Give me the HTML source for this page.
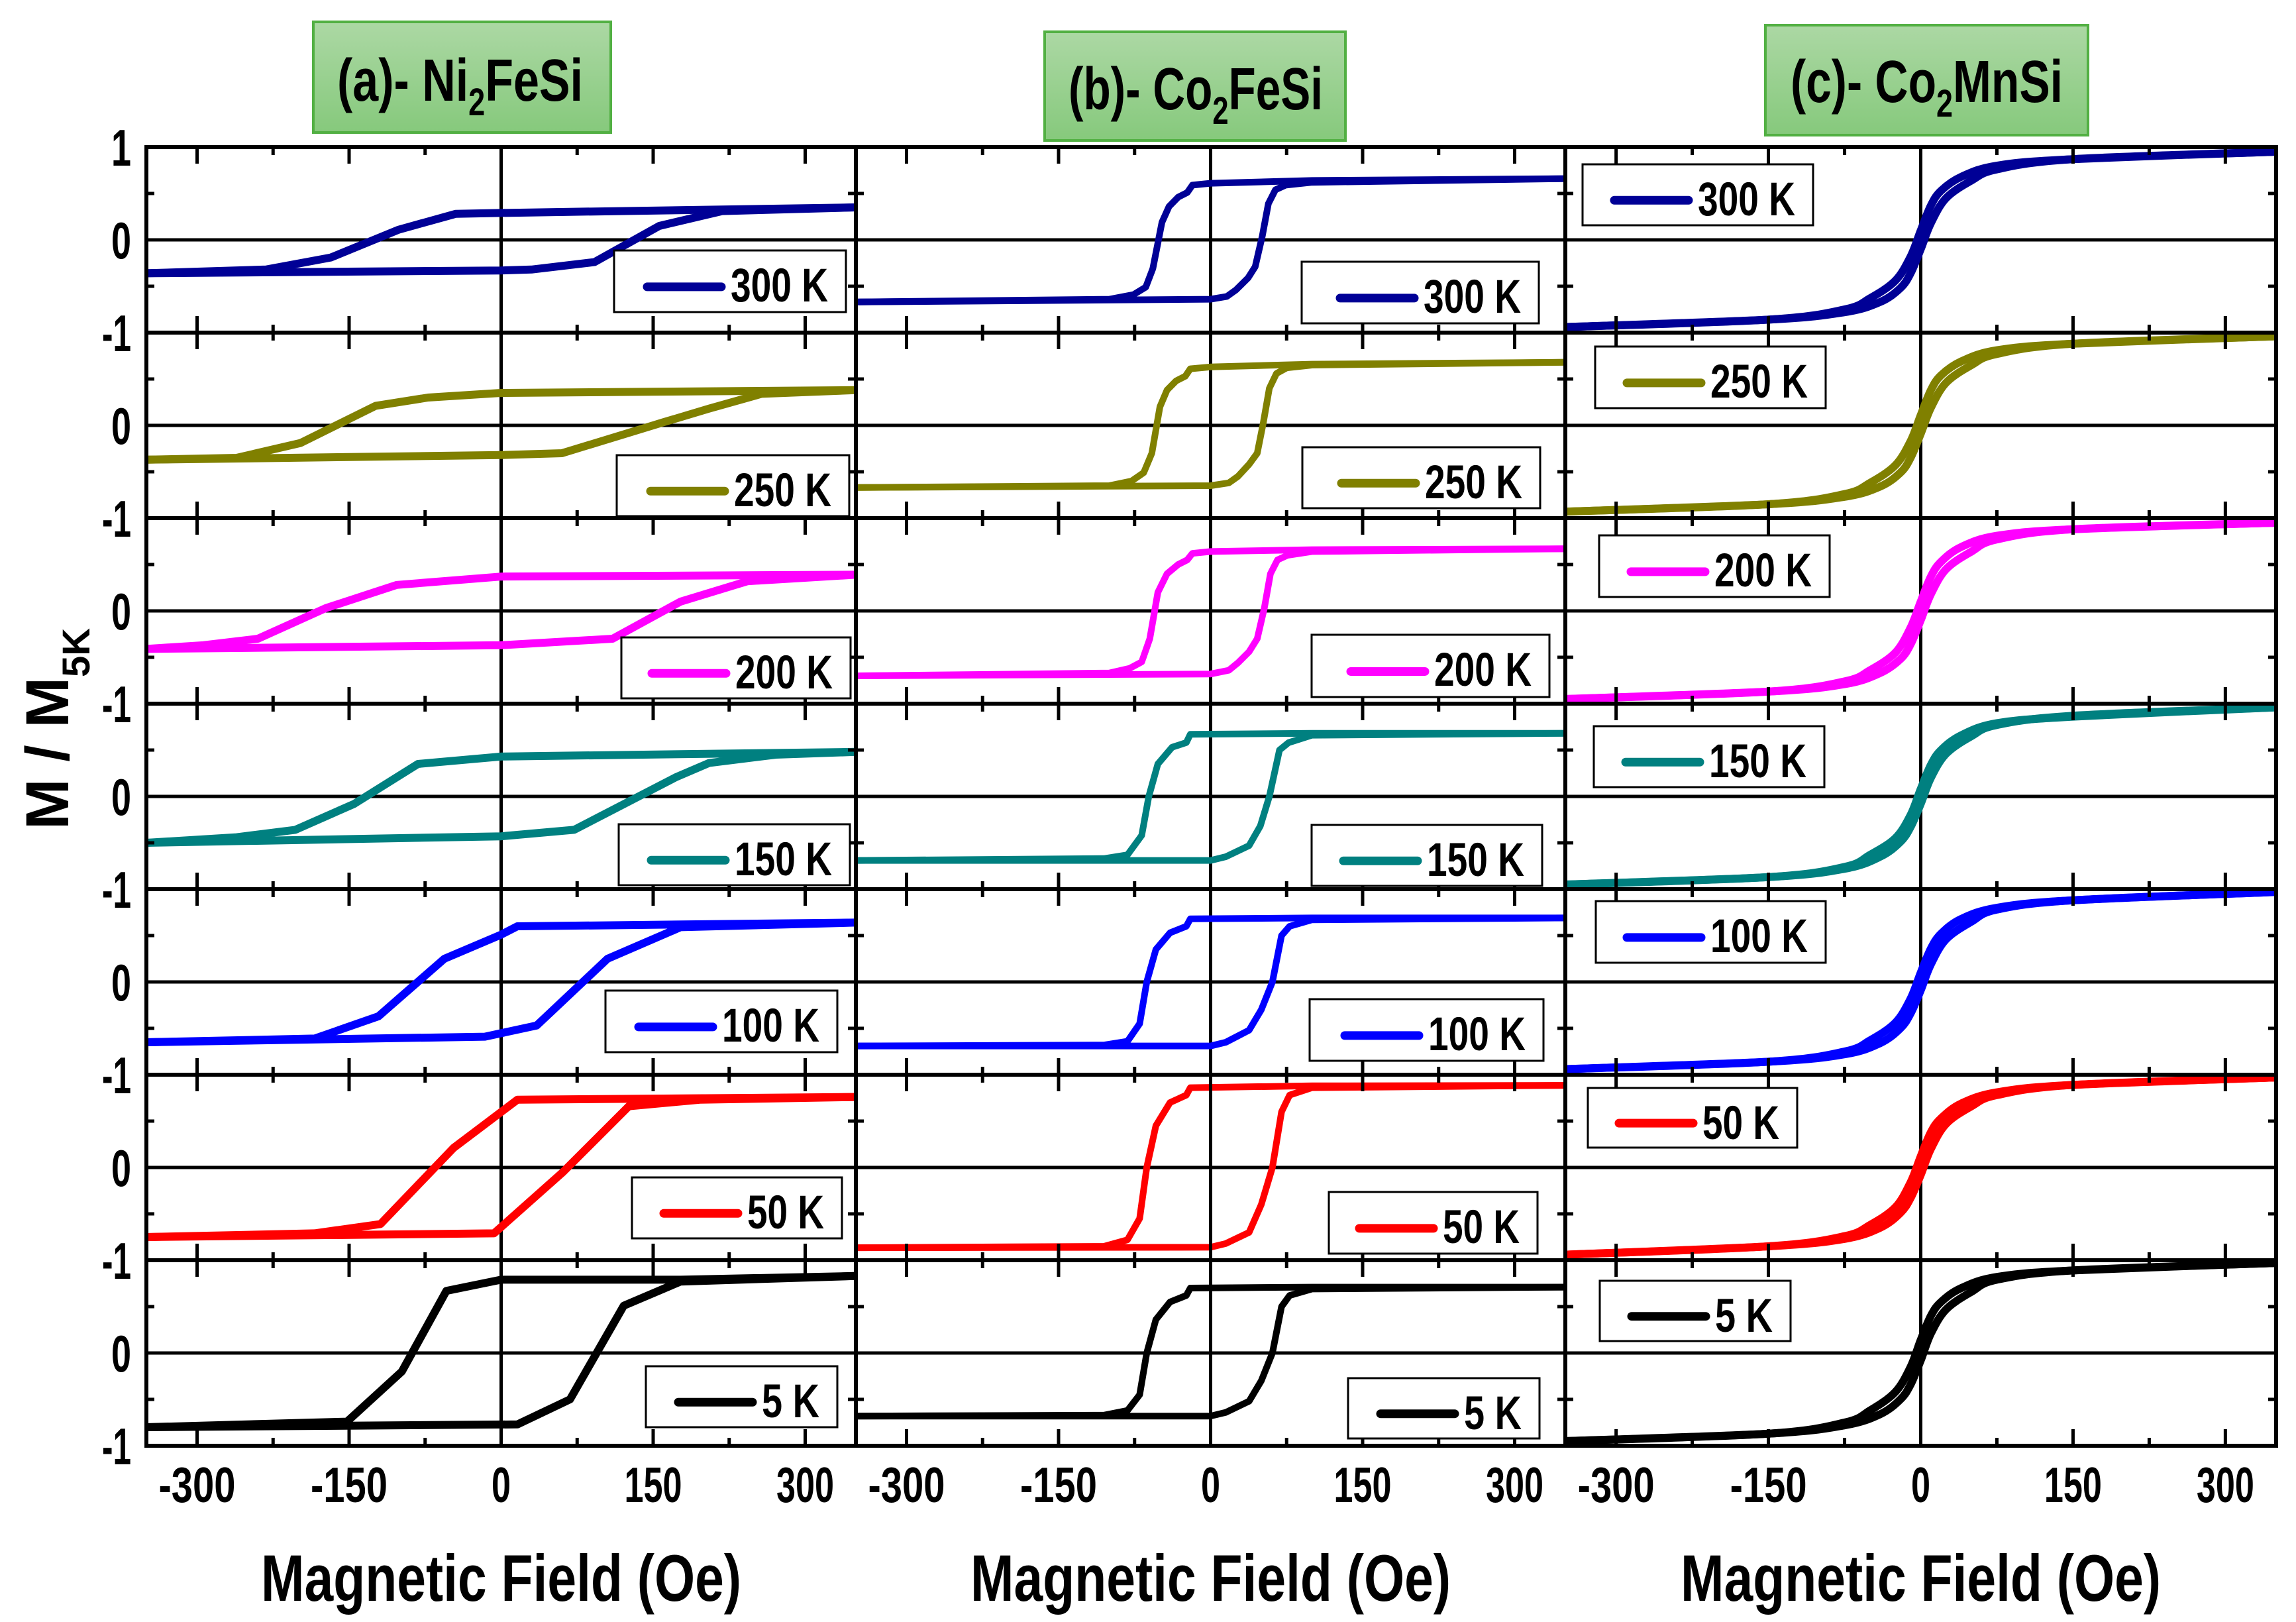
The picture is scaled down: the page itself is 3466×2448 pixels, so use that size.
<!DOCTYPE html>
<html>
<head>
<meta charset="utf-8">
<style>
html,body{margin:0;padding:0;background:#fff;}
svg{display:block;}
text{font-family:"Liberation Sans",sans-serif;font-weight:bold;}
</style>
</head>
<body>
<svg id="chart" xmlns="http://www.w3.org/2000/svg" width="3466" height="2448" viewBox="0 0 3466 2448">
<defs>
<linearGradient id="titleGrad" x1="0" y1="0" x2="0" y2="1">
<stop offset="0" stop-color="#acd8a4"/>
<stop offset="1" stop-color="#86c97c"/>
</linearGradient>
</defs>
<rect x="0" y="0" width="3466" height="2448" fill="#fff"/>
<g>
<rect x="473" y="33" width="449" height="167" fill="url(#titleGrad)" stroke="#52b043" stroke-width="4"/>
<text x="509" y="152" font-size="90" textLength="371" lengthAdjust="spacingAndGlyphs" fill="#000">(a)- Ni<tspan font-size="58" dy="22">2</tspan><tspan dy="-22">FeSi</tspan></text>
</g>
<g>
<rect x="1577" y="48" width="454" height="164" fill="url(#titleGrad)" stroke="#52b043" stroke-width="4"/>
<text x="1613" y="165" font-size="90" textLength="384" lengthAdjust="spacingAndGlyphs" fill="#000">(b)- Co<tspan font-size="58" dy="22">2</tspan><tspan dy="-22">FeSi</tspan></text>
</g>
<g>
<rect x="2665" y="38" width="487" height="166" fill="url(#titleGrad)" stroke="#52b043" stroke-width="4"/>
<text x="2703" y="154" font-size="90" textLength="411" lengthAdjust="spacingAndGlyphs" fill="#000">(c)- Co<tspan font-size="58" dy="22">2</tspan><tspan dy="-22">MnSi</tspan></text>
</g>
<text transform="translate(103,1252) rotate(-90)" font-size="92" fill="#000">M / M<tspan font-size="58" dy="32">5K</tspan></text>
</svg>
<script>
// ---------- data ----------
const temperatures = ['300 K','250 K','200 K','150 K','100 K','50 K','5 K'];
const xTickValues = [-300,-150,0,150,300];
const xTickLabels = ['-300','-150','0','150','300'];
const xMinorValues = [-225,-75,75,225];
const yTickValues = [1,0,-1];
const yTickLabels = ['1','0','-1'];

// Panel (a) Ni2FeSi
const a300DescH=[350,0,-45,-101,-168,-232,-350];
const a300DescM=[0.35,0.29,0.28,0.11,-0.19,-0.32,-0.36];
const a300AscH=[-350,0,30,92,156,218,350];
const a300AscM=[-0.36,-0.33,-0.32,-0.24,0.15,0.31,0.35];
const a250DescH=[350,0,-72,-124,-198,-261,-350];
const a250DescM=[0.38,0.35,0.30,0.21,-0.19,-0.35,-0.37];
const a250AscH=[-350,0,60,159,205,257,350];
const a250AscM=[-0.37,-0.32,-0.30,0.03,0.18,0.34,0.38];
const a200DescH=[350,0,-103,-173,-240,-294,-350];
const a200DescM=[0.39,0.37,0.28,0.03,-0.30,-0.37,-0.41];
const a200AscH=[-350,0,110,177,243,350];
const a200AscM=[-0.41,-0.37,-0.30,0.10,0.32,0.39];
const a150DescH=[350,0,-82,-145,-203,-261,-350];
const a150DescM=[0.48,0.43,0.35,-0.08,-0.36,-0.44,-0.50];
const a150AscH=[-350,0,72,173,205,271,350];
const a150AscM=[-0.50,-0.43,-0.36,0.21,0.36,0.45,0.48];
const a100DescH=[350,16,0,-56,-121,-184,-350];
const a100DescM=[0.64,0.60,0.51,0.25,-0.37,-0.61,-0.65];
const a100AscH=[-350,-16,35,105,177,350];
const a100AscM=[-0.65,-0.59,-0.47,0.25,0.59,0.64];
const a50DescH=[350,16,-47,-119,-184,-350];
const a50DescM=[0.76,0.73,0.21,-0.61,-0.71,-0.75];
const a50AscH=[-350,-7,61,126,196,350];
const a50AscM=[-0.75,-0.71,-0.05,0.66,0.73,0.76];
const a5DescH=[350,177,0,-54,-98,-152,-350];
const a5DescM=[0.83,0.79,0.79,0.67,-0.20,-0.74,-0.80];
const a5AscH=[-350,16,68,121,177,350];
const a5AscM=[-0.80,-0.77,-0.50,0.51,0.77,0.83];

// Panel (b) Co2FeSi
const b300DescH=[350,100,0,-18,-23,-32,-41,-48,-57,-64,-76,-100,-350];
const b300DescM=[0.66,0.64,0.61,0.59,0.51,0.46,0.36,0.19,-0.31,-0.51,-0.59,-0.64,-0.67];
const b300AscH=[-350,0,16,25,37,44,51,57,64,74,100,350];
const b300AscM=[-0.67,-0.64,-0.61,-0.54,-0.41,-0.29,0.04,0.39,0.54,0.59,0.62,0.66];
const b250DescH=[350,100,0,-20,-25,-34,-43,-50,-58,-66,-78,-100,-350];
const b250DescM=[0.68,0.66,0.63,0.61,0.53,0.48,0.38,0.20,-0.30,-0.51,-0.60,-0.65,-0.67];
const b250AscH=[-350,0,18,27,38,46,52,58,65,75,100,350];
const b250AscM=[-0.67,-0.65,-0.62,-0.55,-0.42,-0.30,0.03,0.40,0.56,0.62,0.65,0.68];
const b200DescH=[350,100,0,-18,-23,-32,-43,-52,-60,-68,-80,-100,-350];
const b200DescM=[0.67,0.66,0.64,0.62,0.55,0.50,0.40,0.20,-0.30,-0.55,-0.62,-0.67,-0.70];
const b200AscH=[-350,0,18,27,38,46,53,59,66,76,100,350];
const b200AscM=[-0.70,-0.68,-0.64,-0.56,-0.44,-0.30,0.03,0.40,0.55,0.60,0.64,0.67];
const b150DescH=[350,100,-20,-24,-38,-52,-61,-68,-82,-105,-350];
const b150DescM=[0.68,0.68,0.67,0.58,0.53,0.35,0.00,-0.42,-0.63,-0.67,-0.69];
const b150AscH=[-350,0,15,38,49,58,68,77,100,350];
const b150AscM=[-0.69,-0.69,-0.65,-0.53,-0.32,0.00,0.50,0.58,0.66,0.68];
const b100DescH=[350,100,-20,-24,-40,-54,-63,-70,-82,-105,-350];
const b100DescM=[0.69,0.69,0.68,0.60,0.53,0.35,0.00,-0.45,-0.64,-0.68,-0.69];
const b100AscH=[-350,0,15,38,50,61,70,78,100,350];
const b100AscM=[-0.69,-0.69,-0.65,-0.52,-0.30,0.00,0.50,0.60,0.67,0.69];
const b50DescH=[350,100,-20,-24,-40,-54,-63,-70,-82,-105,-350];
const b50DescM=[0.885,0.88,0.86,0.78,0.70,0.45,0.00,-0.55,-0.78,-0.85,-0.865];
const b50AscH=[-350,0,15,38,50,61,70,78,100,350];
const b50AscM=[-0.865,-0.86,-0.82,-0.70,-0.40,0.00,0.60,0.78,0.86,0.885];
const b5DescH=[350,100,-20,-24,-40,-54,-63,-70,-82,-105,-350];
const b5DescM=[0.71,0.71,0.70,0.62,0.55,0.36,0.00,-0.45,-0.62,-0.67,-0.68];
const b5AscH=[-350,0,15,38,50,61,70,78,100,350];
const b5AscM=[-0.68,-0.68,-0.64,-0.52,-0.30,0.00,0.50,0.62,0.69,0.71];

// Panel (c) Co2MnSi
const cDescH=[350,150,75,40,20,10,0,-10,-25,-50,-75,-150,-350];
const cAscH=[-350,-150,-75,-40,-20,-10,0,10,25,50,75,150,350];
const c300DescM=[0.95,0.87,0.80,0.68,0.53,0.37,0.10,-0.18,-0.44,-0.63,-0.75,-0.86,-0.94];
const c300AscM=[-0.94,-0.86,-0.78,-0.67,-0.52,-0.36,-0.10,0.18,0.45,0.64,0.76,0.87,0.95];
const c250DescM=[0.96,0.88,0.81,0.69,0.54,0.38,0.11,-0.17,-0.43,-0.62,-0.74,-0.85,-0.93];
const c250AscM=[-0.93,-0.85,-0.77,-0.66,-0.51,-0.35,-0.09,0.19,0.46,0.65,0.77,0.88,0.96];
const c200DescM=[0.95,0.88,0.81,0.69,0.53,0.37,0.10,-0.18,-0.45,-0.64,-0.76,-0.87,-0.95];
const c200AscM=[-0.95,-0.87,-0.79,-0.67,-0.52,-0.36,-0.10,0.18,0.45,0.64,0.77,0.88,0.95];
const c150DescM=[0.96,0.86,0.79,0.66,0.50,0.34,0.08,-0.20,-0.45,-0.63,-0.76,-0.87,-0.95];
const c150AscM=[-0.95,-0.87,-0.78,-0.65,-0.49,-0.33,-0.08,0.20,0.46,0.65,0.77,0.87,0.96];
const c100DescM=[0.97,0.88,0.80,0.68,0.52,0.36,0.10,-0.18,-0.44,-0.63,-0.75,-0.86,-0.94];
const c100AscM=[-0.94,-0.86,-0.78,-0.66,-0.50,-0.34,-0.09,0.19,0.46,0.65,0.78,0.88,0.97];
const c50DescM=[0.97,0.89,0.81,0.69,0.53,0.38,0.12,-0.16,-0.43,-0.62,-0.74,-0.85,-0.94];
const c50AscM=[-0.94,-0.85,-0.77,-0.65,-0.49,-0.33,-0.08,0.20,0.47,0.66,0.78,0.89,0.97];
const c5DescM=[0.97,0.89,0.82,0.70,0.55,0.40,0.14,-0.15,-0.42,-0.62,-0.75,-0.87,-0.95];
const c5AscM=[-0.95,-0.87,-0.78,-0.66,-0.50,-0.34,-0.08,0.21,0.47,0.66,0.79,0.89,0.97];

// ---------- styling / layout ----------
const seriesColors=['#000096','#808000','#ff00ff','#008080','#0000ff','#ff0000','#000000'];
const panelIds=['a','b','c'];
const panelX0=[221,1292,2363];
const panelX1=[1292,2363,3436];
const panelStroke=[12,10,12];
const plotTop=222, rowH=280;
const legendBoxes=[
 [[927,378,350,93],[931,687,351,92],[938,962,346,92],[934,1244,349,92],[914,1495,350,93],[954,1777,317,92],[975,2062,289,92]],
 [[1965,395,358,93],[1966,675,359,92],[1980,958,359,94],[1980,1245,348,92],[1977,1508,353,93],[2006,1799,315,93],[2035,2080,289,91]],
 [[2389,248,348,92],[2408,523,348,93],[2414,808,348,93],[2406,1096,348,92],[2409,1360,347,93],[2397,1642,316,90],[2415,1933,288,91]]
];

const panelSeries=[
 [[a300DescH,a300DescM,a300AscH,a300AscM],[a250DescH,a250DescM,a250AscH,a250AscM],[a200DescH,a200DescM,a200AscH,a200AscM],[a150DescH,a150DescM,a150AscH,a150AscM],[a100DescH,a100DescM,a100AscH,a100AscM],[a50DescH,a50DescM,a50AscH,a50AscM],[a5DescH,a5DescM,a5AscH,a5AscM]],
 [[b300DescH,b300DescM,b300AscH,b300AscM],[b250DescH,b250DescM,b250AscH,b250AscM],[b200DescH,b200DescM,b200AscH,b200AscM],[b150DescH,b150DescM,b150AscH,b150AscM],[b100DescH,b100DescM,b100AscH,b100AscM],[b50DescH,b50DescM,b50AscH,b50AscM],[b5DescH,b5DescM,b5AscH,b5AscM]],
 [[cDescH,c300DescM,cAscH,c300AscM],[cDescH,c250DescM,cAscH,c250AscM],[cDescH,c200DescM,cAscH,c200AscM],[cDescH,c150DescM,cAscH,c150AscM],[cDescH,c100DescM,cAscH,c100AscM],[cDescH,c50DescM,cAscH,c50AscM],[cDescH,c5DescM,cAscH,c5AscM]]
];

const NS='http://www.w3.org/2000/svg';
const svg=document.getElementById('chart');
function mk(tag,attrs,parent){
  const e=document.createElementNS(NS,tag);
  for(const k in attrs) e.setAttribute(k,attrs[k]);
  (parent||svg).appendChild(e);
  return e;
}
function xScale(p,h){ return panelX0[p]+(h+350)/700*(panelX1[p]-panelX0[p]); }
function rowCenter(r){ return plotTop+r*rowH+rowH/2; }
function yScale(r,m){ return rowCenter(r)-m*rowH/2; }
function linePath(pts){ return 'M'+pts.map(q=>q[0].toFixed(1)+','+q[1].toFixed(1)).join(' L'); }
function smoothPath(pts){
  let d='M'+pts[0][0].toFixed(1)+','+pts[0][1].toFixed(1);
  for(let i=0;i<pts.length-1;i++){
    const p0=pts[i-1]||pts[i], p1=pts[i], p2=pts[i+1], p3=pts[i+2]||pts[i+1];
    const c1=[p1[0]+(p2[0]-p0[0])/6, p1[1]+(p2[1]-p0[1])/6];
    const c2=[p2[0]-(p3[0]-p1[0])/6, p2[1]-(p3[1]-p1[1])/6];
    d+=' C'+c1[0].toFixed(1)+','+c1[1].toFixed(1)+' '+c2[0].toFixed(1)+','+c2[1].toFixed(1)+' '+p2[0].toFixed(1)+','+p2[1].toFixed(1);
  }
  return d;
}

for(let p=0;p<3;p++){
  const g=mk('g',{});
  
  
  const x0=panelX0[p], x1=panelX1[p];
  const zx=xScale(p,0);
  for(let r=0;r<7;r++){
    const zl=mk('line',{x1:x0,x2:x1,y1:yScale(r,0),y2:yScale(r,0),stroke:'#000','stroke-width':5},g);
    
    
  }
  const vz=mk('line',{x1:zx,x2:zx,y1:plotTop,y2:plotTop+7*rowH,stroke:'#000','stroke-width':5},g);
  
  
  for(let r=0;r<7;r++){
    const s=panelSeries[p][r];
    const desc=s[0].map((h,i)=>[xScale(p,h),yScale(r,s[1][i])]);
    const asc=s[2].map((h,i)=>[xScale(p,h),yScale(r,s[3][i])]);
    const f=(p===2)?smoothPath:linePath;
    const pd=mk('path',{d:f(desc),fill:'none',stroke:seriesColors[r],'stroke-width':panelStroke[p],'stroke-linejoin':'round','stroke-linecap':'butt'},g);
    
    
    const pa=mk('path',{d:f(asc),fill:'none',stroke:seriesColors[r],'stroke-width':panelStroke[p],'stroke-linejoin':'round','stroke-linecap':'butt'},g);
    
    
  }
  for(let r=1;r<7;r++){
    const d=mk('line',{x1:x0,x2:x1,y1:plotTop+r*rowH,y2:plotTop+r*rowH,stroke:'#000','stroke-width':6},g);
    
    
  }
  const fr=mk('rect',{x:x0,y:plotTop,width:x1-x0,height:7*rowH,fill:'none',stroke:'#000','stroke-width':6},g);
  
  
  for(let r=0;r<7;r++){
    const top=plotTop+r*rowH, bot=top+rowH;
    xTickValues.forEach(v=>{
      const x=xScale(p,v);
      const t1=mk('line',{x1:x,x2:x,y1:top,y2:top+25,stroke:'#000','stroke-width':5},g);
      
      
      const t2=mk('line',{x1:x,x2:x,y1:bot,y2:bot-25,stroke:'#000','stroke-width':5},g);
      
      
    });
    xMinorValues.forEach(v=>{
      const x=xScale(p,v);
      const t1=mk('line',{x1:x,x2:x,y1:top,y2:top+12,stroke:'#000','stroke-width':5},g);
      
      
      const t2=mk('line',{x1:x,x2:x,y1:bot,y2:bot-12,stroke:'#000','stroke-width':5},g);
      
      
    });
    [0.5,-0.5].forEach(m=>{
      const y=yScale(r,m);
      const t1=mk('line',{x1:x0,x2:x0+12,y1:y,y2:y,stroke:'#000','stroke-width':5},g);
      
      
      const t2=mk('line',{x1:x1,x2:x1-12,y1:y,y2:y,stroke:'#000','stroke-width':5},g);
      
      
    });
  }
  xTickValues.forEach((v,i)=>{
    const lab=xTickLabels[i];
    const t=mk('text',{x:xScale(p,v),y:2267,'text-anchor':'middle','font-size':75,textLength:lab.length*29,lengthAdjust:'spacingAndGlyphs',fill:'#000'},g);
    t.textContent=lab;
    
    
  });
  const xt=mk('text',{x:(x0+x1)/2,y:2416,'text-anchor':'middle','font-size':99,textLength:725,lengthAdjust:'spacingAndGlyphs',fill:'#000'},g);
  xt.textContent='Magnetic Field (Oe)';
  
  
  for(let r=0;r<7;r++){
    const b=legendBoxes[p][r];
    const lg=mk('g',{},g);
    
    
    mk('rect',{x:b[0],y:b[1],width:b[2],height:b[3],fill:'#fff',stroke:'#000','stroke-width':3},lg);
    const lab=temperatures[r];
    const tw=lab.length===5?147:(lab.length===4?116:87);
    const tx=b[0]+b[2]-27;
    const ln=mk('line',{x1:tx-tw-14-112,x2:tx-tw-14,y1:b[1]+b[3]*0.59,y2:b[1]+b[3]*0.59,stroke:seriesColors[r],'stroke-width':13,'stroke-linecap':'round'},lg);
    
    
    const t=mk('text',{x:tx,y:b[1]+77,'text-anchor':'end','font-size':71,textLength:tw,lengthAdjust:'spacingAndGlyphs',fill:'#000'},lg);
    t.textContent=lab;
    
    
  }
}
for(let r=0;r<7;r++){
  yTickValues.forEach((v,i)=>{
    if(v===1 && r>0) return;
    const lab=yTickLabels[i];
    const t=mk('text',{x:198,y:yScale(r,v)+28,'text-anchor':'end','font-size':78,textLength:lab.length===1?30:44,lengthAdjust:'spacingAndGlyphs',fill:'#000'});
    t.textContent=lab;
    
    
  });
}
</script>
</body>
</html>
